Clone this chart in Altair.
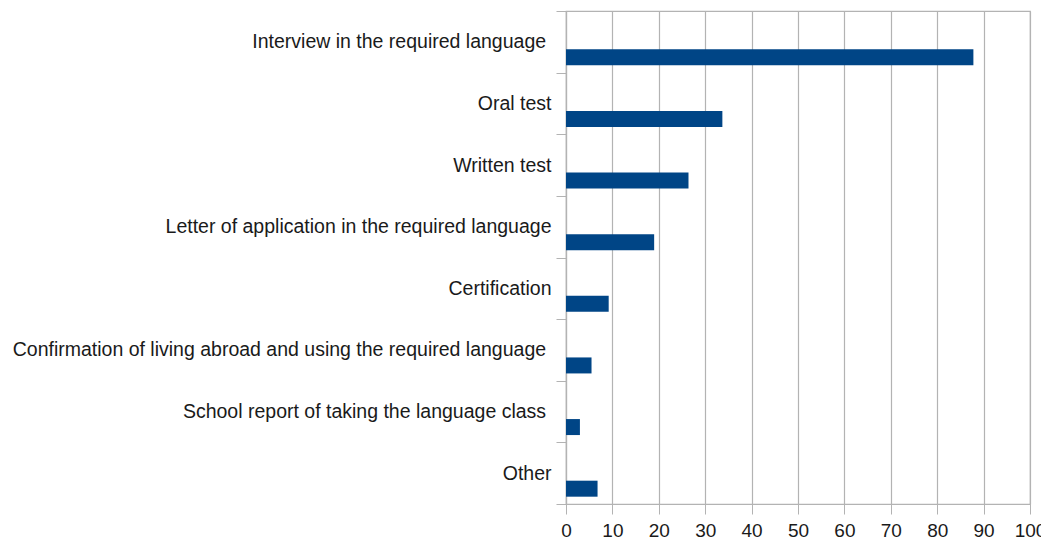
import altair as alt
import pandas as pd

categories = [
    "Interview in the required language \u200b",
    "Oral test",
    "Written test",
    "Letter of application in the required language",
    "Certification",
    "Confirmation of living abroad and using the required language \u200b",
    "School report of taking the language class \u200b",
    "Other",
]
values = [87.8, 33.7, 26.4, 19.0, 9.2, 5.5, 3.0, 6.8]
x_ticks = [0, 10, 20, 30, 40, 50, 60, 70, 80, 90, 100]

df = pd.DataFrame({"method": categories, "value": values})

FONT = "Liberation Sans"
GRID = "#b3b3b3"

chart = (
    alt.Chart(df)
    .mark_bar(color="#004586", height=16, yOffset=15.5)
    .encode(
        x=alt.X(
            "value:Q",
            scale=alt.Scale(domain=[0, 100], nice=False),
            axis=alt.Axis(
                values=x_ticks,
                title=None,
                grid=True,
                gridColor=GRID,
                gridWidth=1.2,
                domainColor=GRID,
                domainWidth=1.2,
                tickColor=GRID,
                tickSize=10,
                labelPadding=7,
                labelFlush=False,
                labelFont=FONT,
                labelFontSize=19,
                labelColor="#1a1a1a",
            ),
        ),
        y=alt.Y(
            "method:N",
            sort=categories,
            scale=alt.Scale(paddingInner=0, paddingOuter=0),
            axis=alt.Axis(
                title=None,
                tickBand="extent",
                grid=False,
                domainColor=GRID,
                domainWidth=1.2,
                tickColor=GRID,
                tickSize=10,
                labelPadding=5,
                labelFont=FONT,
                labelFontSize=19.5,
                labelColor="#1a1a1a",
                labelLimit=0,
            ),
        ),
    )
    .properties(
        width=464,
        height=493,
        autosize=alt.AutoSizeParams(type="none"),
        padding={"left": 558, "top": 3, "right": 11, "bottom": 40},
    )
    .configure_view(stroke=GRID, strokeWidth=1.2)
)

chart.save("out.html", embed_options={"renderer": "svg", "actions": False})
